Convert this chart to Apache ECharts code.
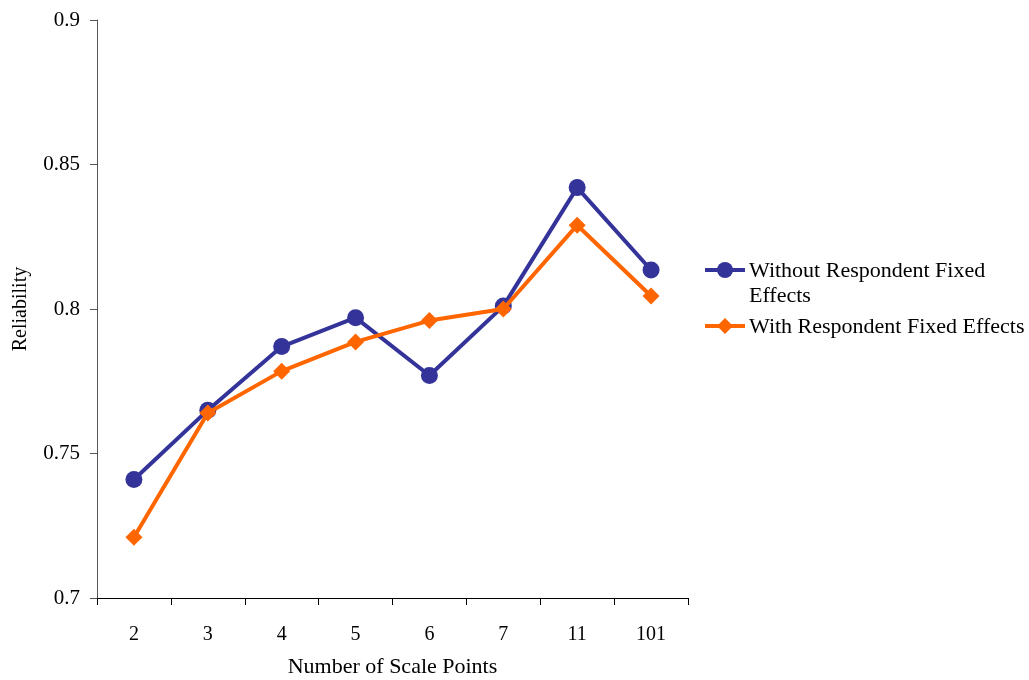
<!DOCTYPE html>
<html>
<head>
<meta charset="utf-8">
<script src="https://cdn.jsdelivr.net/npm/echarts@6/dist/echarts.min.js"></script>
<style>
  html, body { margin: 0; padding: 0; background: #fff; }
  #chart { width: 1029px; height: 680px; }
</style>
</head>
<body>
<div id="chart"></div>
<script>
// Scale-point categories and reliability estimates
const scalePoints = ['2', '3', '4', '5', '6', '7', '11', '101'];
const withoutFixed = [0.741, 0.765, 0.787, 0.797, 0.777, 0.801, 0.842, 0.8135];
const withFixed = [0.721, 0.764, 0.7785, 0.7886, 0.796, 0.800, 0.829, 0.8045];
const seriesNames = ['Without Respondent Fixed Effects', 'With Respondent Fixed Effects'];
const yTicks = [0.7, 0.75, 0.8, 0.85, 0.9];

const BLUE = '#333399';
const ORANGE = '#FF6600';
const FONT = '"Liberation Serif", "Times New Roman", serif';

const chart = echarts.init(document.getElementById('chart'));

// Diamond path for markers in the custom legend
function diamond(cx, cy, r) {
  return [[cx, cy - r], [cx + r, cy], [cx, cy + r], [cx - r, cy]];
}

chart.setOption({
  animation: false,
  backgroundColor: '#ffffff',
  textStyle: { fontFamily: FONT },
  grid: { left: 97, top: 20, right: 341, bottom: 82, containLabel: false, outerBoundsMode: 'none' },
  xAxis: {
    type: 'category',
    data: scalePoints,
    boundaryGap: true,
    name: 'Number of Scale Points',
    nameLocation: 'middle',
    nameGap: 58,
    nameTextStyle: { fontFamily: FONT, fontSize: 22, color: '#000' },
    axisLine: { lineStyle: { color: '#000', width: 1 } },
    axisTick: { show: true, length: 7, alignWithLabel: false, lineStyle: { color: '#000' } },
    axisLabel: { fontFamily: FONT, fontSize: 20, color: '#000', margin: 27 },
    splitLine: { show: false }
  },
  yAxis: {
    type: 'value',
    min: yTicks[0],
    max: yTicks[yTicks.length - 1],
    interval: 0.05,
    name: 'Reliability',
    nameLocation: 'middle',
    nameGap: 66,
    nameRotate: 90,
    nameTextStyle: { fontFamily: FONT, fontSize: 20, color: '#000' },
    axisLine: { show: true, lineStyle: { color: '#555', width: 1 } },
    axisTick: { show: true, length: 7, lineStyle: { color: '#555' } },
    axisLabel: {
      fontFamily: FONT, fontSize: 21, color: '#000', margin: 17,
      formatter: v => String(Math.round(v * 100) / 100)
    },
    splitLine: { show: false }
  },
  series: [
    {
      name: seriesNames[0],
      type: 'line',
      data: withoutFixed,
      symbol: 'circle',
      symbolSize: 17,
      itemStyle: { color: BLUE },
      lineStyle: { color: BLUE, width: 4 },
      z: 2
    },
    {
      name: seriesNames[1],
      type: 'line',
      data: withFixed,
      symbol: 'diamond',
      symbolSize: 17,
      itemStyle: { color: ORANGE },
      lineStyle: { color: ORANGE, width: 4 },
      z: 3
    }
  ],
  graphic: [
    // Legend entry: without fixed effects
    { type: 'line', shape: { x1: 705, y1: 270, x2: 745, y2: 270 }, style: { stroke: BLUE, lineWidth: 4 } },
    { type: 'circle', shape: { cx: 725, cy: 270, r: 8 }, style: { fill: BLUE } },
    {
      type: 'text', left: 749, top: 259,
      style: { text: 'Without Respondent Fixed\nEffects', font: '22px ' + FONT, fill: '#000', lineHeight: 25 }
    },
    // Legend entry: with fixed effects
    { type: 'line', shape: { x1: 705, y1: 326, x2: 745, y2: 326 }, style: { stroke: ORANGE, lineWidth: 4 } },
    { type: 'polygon', shape: { points: diamond(725, 326, 8) }, style: { fill: ORANGE } },
    {
      type: 'text', left: 749, top: 315,
      style: { text: seriesNames[1], font: '22px ' + FONT, fill: '#000', lineHeight: 25 }
    }
  ]
});
</script>
</body>
</html>
